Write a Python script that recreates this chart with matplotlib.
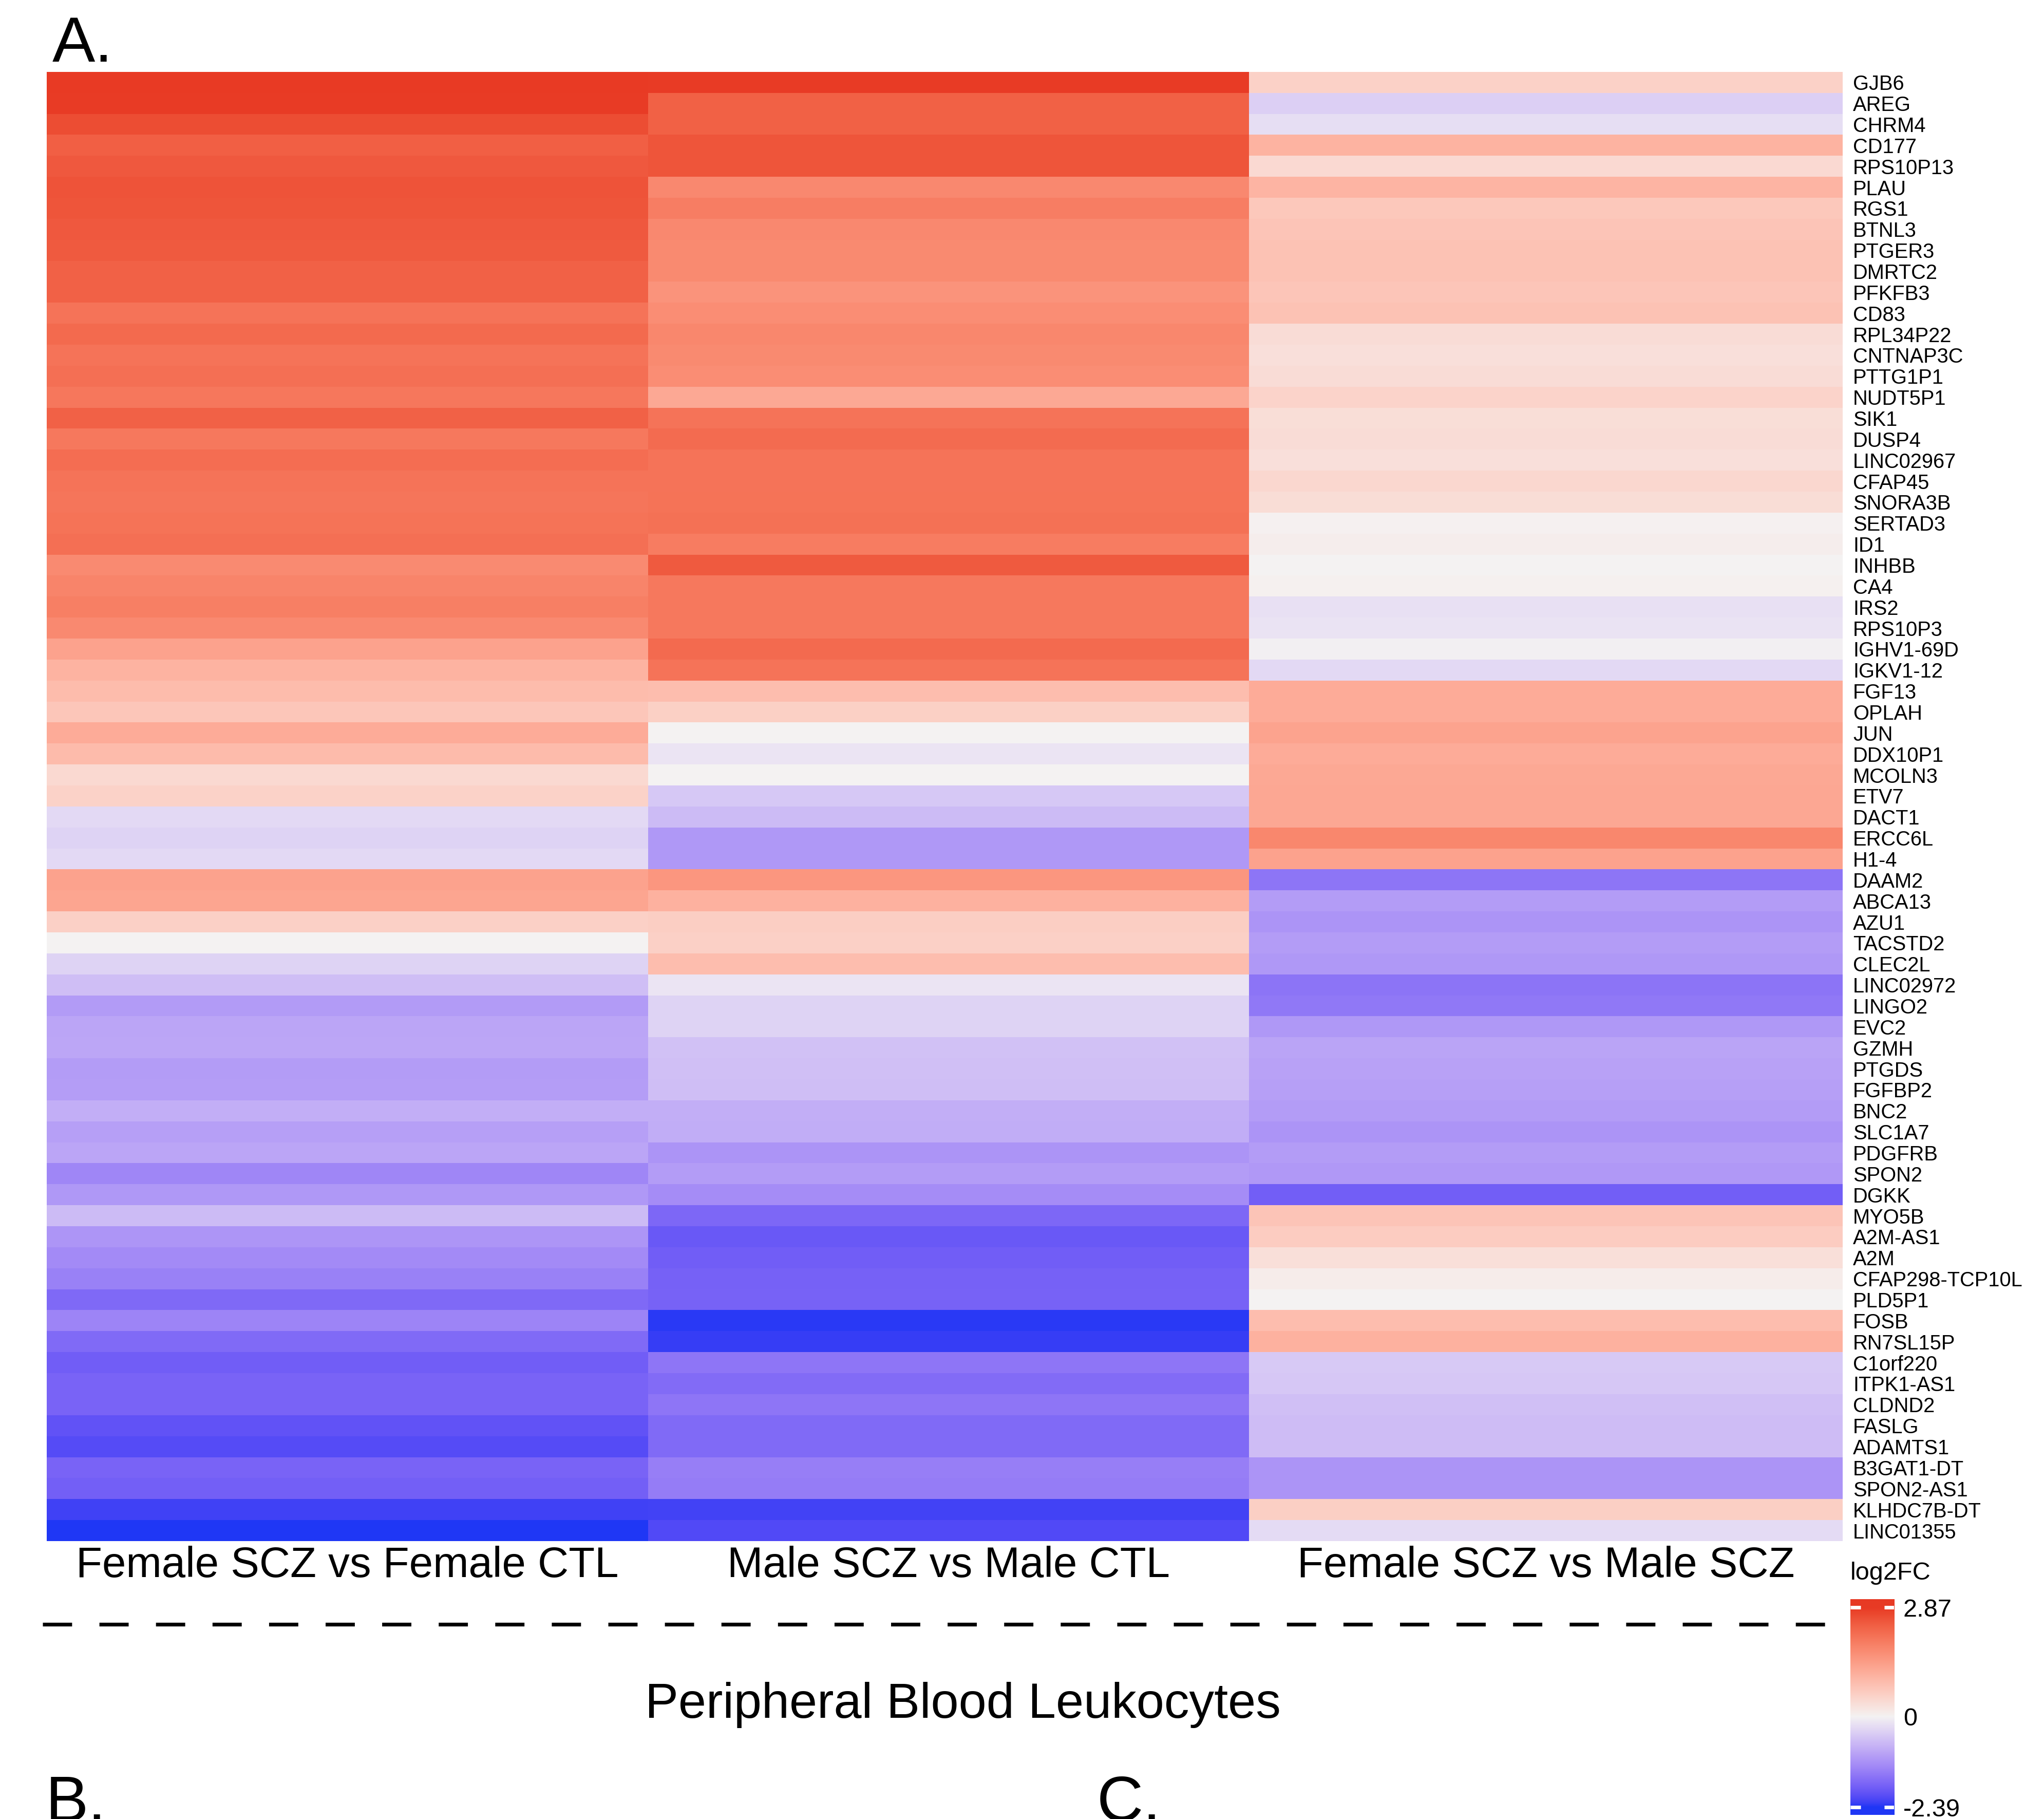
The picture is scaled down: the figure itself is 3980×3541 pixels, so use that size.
import numpy as np
import matplotlib
matplotlib.use("Agg")
import matplotlib.pyplot as plt
from matplotlib.colors import ListedColormap, Normalize, to_rgb
from matplotlib.transforms import blended_transform_factory

plt.rcParams['font.family'] = ['Liberation Sans', 'DejaVu Sans']

# comparisons (columns) and genes (rows, top to bottom)
comparisons = ['Female SCZ vs Female CTL', 'Male SCZ vs Male CTL', 'Female SCZ vs Male SCZ']
genes = ['GJB6', 'AREG', 'CHRM4', 'CD177', 'RPS10P13', 'PLAU', 'RGS1', 'BTNL3', 'PTGER3', 'DMRTC2',
         'PFKFB3', 'CD83', 'RPL34P22', 'CNTNAP3C', 'PTTG1P1', 'NUDT5P1', 'SIK1', 'DUSP4', 'LINC02967', 'CFAP45',
         'SNORA3B', 'SERTAD3', 'ID1', 'INHBB', 'CA4', 'IRS2', 'RPS10P3', 'IGHV1-69D', 'IGKV1-12', 'FGF13',
         'OPLAH', 'JUN', 'DDX10P1', 'MCOLN3', 'ETV7', 'DACT1', 'ERCC6L', 'H1-4', 'DAAM2', 'ABCA13',
         'AZU1', 'TACSTD2', 'CLEC2L', 'LINC02972', 'LINGO2', 'EVC2', 'GZMH', 'PTGDS', 'FGFBP2', 'BNC2',
         'SLC1A7', 'PDGFRB', 'SPON2', 'DGKK', 'MYO5B', 'A2M-AS1', 'A2M', 'CFAP298-TCP10L', 'PLD5P1', 'FOSB',
         'RN7SL15P', 'C1orf220', 'ITPK1-AS1', 'CLDND2', 'FASLG', 'ADAMTS1', 'B3GAT1-DT', 'SPON2-AS1', 'KLHDC7B-DT', 'LINC01355']

# log2FC, Female SCZ vs Female CTL
fc_female = [2.87, 2.85, 2.65, 2.40, 2.50, 2.57, 2.55, 2.50, 2.47, 2.37,
             2.37, 2.10, 2.25, 2.10, 2.17, 2.05, 2.37, 2.03, 2.20, 2.10,
             2.07, 2.11, 2.17, 1.75, 1.85, 1.93, 1.77, 1.35, 1.08, 0.92,
             0.75, 1.20, 0.93, 0.43, 0.55, -0.30, -0.38, -0.30, 1.35, 1.30,
             0.57, 0.00, -0.38, -0.64, -1.08, -0.95, -0.94, -1.07, -1.05, -0.84,
             -1.03, -0.95, -1.35, -1.12, -0.68, -1.15, -1.30, -1.42, -1.73, -1.38,
             -1.72, -1.88, -1.80, -1.80, -2.03, -2.12, -1.80, -1.86, -2.25, -2.39]
# log2FC, Male SCZ vs Male CTL
fc_male = [2.85, 2.38, 2.38, 2.55, 2.55, 1.78, 1.95, 1.78, 1.76, 1.76,
           1.60, 1.70, 1.80, 1.76, 1.70, 1.25, 2.10, 2.23, 2.10, 2.10,
           2.11, 2.15, 1.97, 2.47, 2.03, 2.03, 2.03, 2.24, 2.10, 0.90,
           0.58, 0.00, -0.17, 0.00, -0.52, -0.68, -1.12, -1.12, 1.55, 1.10,
           0.62, 0.57, 0.90, -0.17, -0.38, -0.38, -0.60, -0.63, -0.64, -0.84,
           -0.85, -1.17, -1.07, -1.27, -1.76, -1.95, -1.88, -1.83, -1.82, -2.35,
           -2.30, -1.56, -1.70, -1.56, -1.72, -1.72, -1.45, -1.48, -2.24, -2.15]
# log2FC, Female SCZ vs Male SCZ
fc_sex = [0.56, -0.42, -0.25, 1.08, 0.42, 1.05, 0.72, 0.78, 0.82, 0.82,
          0.76, 0.82, 0.37, 0.32, 0.37, 0.52, 0.35, 0.37, 0.32, 0.46,
          0.36, 0.03, 0.08, 0.00, 0.04, -0.22, -0.18, -0.03, -0.30, 1.20,
          1.20, 1.33, 1.20, 1.25, 1.27, 1.27, 1.80, 1.35, -1.57, -1.07,
          -1.17, -1.07, -1.12, -1.58, -1.53, -1.12, -0.97, -1.00, -1.03, -1.07,
          -1.16, -1.07, -1.11, -1.87, 0.78, 0.65, 0.33, 0.10, 0.00, 0.90,
          1.10, -0.50, -0.53, -0.63, -0.66, -0.66, -1.16, -1.16, 0.60, -0.28]

fc_min, fc_max = -2.39, 2.87
legend_ticks = [2.87, 0, -2.39]


# colour ramp blue - white - red interpolated in CIE Lab
def rgb_to_lab(rgb):
    rgb = np.asarray(rgb, dtype=float)
    lin = np.where(rgb <= 0.04045, rgb / 12.92, ((rgb + 0.055) / 1.055) ** 2.4)
    m = np.array([[0.4124, 0.3576, 0.1805], [0.2126, 0.7152, 0.0722], [0.0193, 0.1192, 0.9505]])
    xyz = m @ lin / np.array([0.95047, 1.0, 1.08883])
    f = np.where(xyz > 0.008856, np.cbrt(xyz), 7.787 * xyz + 16 / 116)
    return np.array([116 * f[1] - 16, 500 * (f[0] - f[1]), 200 * (f[1] - f[2])])


def lab_to_rgb(lab):
    fy = (lab[0] + 16) / 116
    f = np.array([fy + lab[1] / 500, fy, fy - lab[2] / 200])
    xyz = np.where(f ** 3 > 0.008856, f ** 3, (f - 16 / 116) / 7.787) * np.array([0.95047, 1.0, 1.08883])
    m = np.array([[3.2406, -1.5372, -0.4986], [-0.9689, 1.8758, 0.0415], [0.0557, -0.2040, 1.0570]])
    lin = np.clip(m @ xyz, 0, 1)
    rgb = np.where(lin <= 0.0031308, 12.92 * lin, 1.055 * lin ** (1 / 2.4) - 0.055)
    return np.clip(rgb, 0, 1)


low_lab = rgb_to_lab(to_rgb('#1F37F5'))
mid_lab = rgb_to_lab(to_rgb('#F4F2F2'))
high_lab = rgb_to_lab(to_rgb('#E83A24'))
ramp_vals = np.linspace(fc_min, fc_max, 512)
ramp = []
for v in ramp_vals:
    if v < 0:
        t = v / fc_min
        ramp.append(lab_to_rgb(mid_lab + t * (low_lab - mid_lab)))
    else:
        t = v / fc_max
        ramp.append(lab_to_rgb(mid_lab + t * (high_lab - mid_lab)))
cmap = ListedColormap(ramp)
norm = Normalize(vmin=fc_min, vmax=fc_max, clip=True)

data = np.column_stack([fc_female, fc_male, fc_sex])

fig = plt.figure(figsize=(15.92, 14.164), dpi=250)

# heatmap (last column drawn a touch narrower, as in the source figure)
col_edges = [0, 1, 2, 2.987]
ax = fig.add_axes([0.0228, 0.1528, 0.8787, 0.8077])
ax.pcolormesh(col_edges, np.arange(len(genes) + 1), data, cmap=cmap, norm=norm,
              shading='flat', edgecolors='none', antialiased=False)
ax.set_xlim(0, col_edges[-1])
ax.set_ylim(len(genes), 0)
ax.set_xticks([])
ax.yaxis.tick_right()
ax.set_yticks(np.arange(len(genes)) + 0.5)
ax.set_yticklabels(genes, fontsize=11.5)
ax.tick_params(axis='y', length=0, pad=5.8)
for s in ax.spines.values():
    s.set_visible(False)

# column labels under the heatmap
tr = blended_transform_factory(ax.transData, fig.transFigure)
for i, name in enumerate(comparisons):
    xc = (col_edges[i] + col_edges[i + 1]) / 2
    ax.text(xc, 0.1392, name, transform=tr, ha='center', va='center', fontsize=24)

# panel letters
fig.text(0.0256, 0.966, 'A.', fontsize=36, ha='left', va='baseline')
fig.text(0.0222, -0.001, 'B.', fontsize=36, ha='left', va='baseline')
fig.text(0.5365, -0.001, 'C.', fontsize=36, ha='left', va='baseline')

# dashed separator and tissue title
fig.add_artist(plt.Line2D([0.0209, 0.9015], [0.1070, 0.1070], transform=fig.transFigure,
                          color='black', linewidth=2.1, dashes=(7.8, 7.3), dash_capstyle='butt'))
fig.text(0.471, 0.0627, 'Peripheral Blood Leukocytes', fontsize=28, ha='center', va='center')

# legend
fig.text(0.9052, 0.1352, 'log2FC', fontsize=14, ha='left', va='center')
cax = fig.add_axes([0.9053, 0.0023, 0.0214, 0.1186])
bar_vals = np.linspace(-2.59, 3.09, 400)
cax.imshow(bar_vals[:, None], aspect='auto', cmap=cmap, norm=norm, origin='lower',
           extent=[0, 1, -2.59, 3.09], interpolation='bilinear')
cax.set_xlim(0, 1)
cax.set_ylim(-2.59, 3.09)
for tv in [fc_max, fc_min]:
    cax.plot([0, 0.23], [tv, tv], color='white', linewidth=2.0, solid_capstyle='butt')
    cax.plot([0.77, 1], [tv, tv], color='white', linewidth=2.0, solid_capstyle='butt')
cax.set_xticks([])
cax.yaxis.tick_right()
cax.set_yticks(legend_ticks)
cax.set_yticklabels(['2.87', '0', '-2.39'], fontsize=14)
cax.tick_params(axis='y', length=0, pad=5)
for s in cax.spines.values():
    s.set_visible(False)

fig.savefig('out.png', dpi=250)
